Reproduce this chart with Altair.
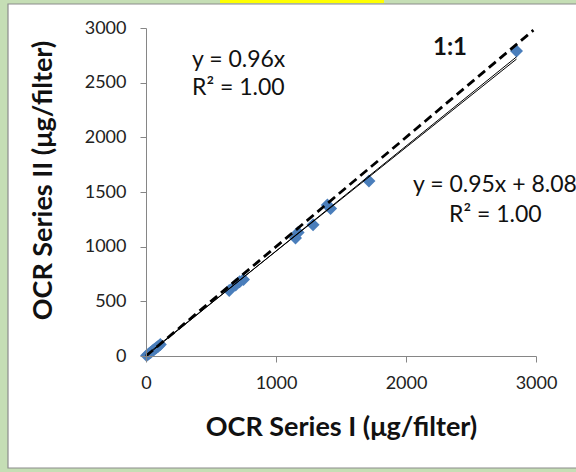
import altair as alt
import pandas as pd

# Paired OCR measurements (µg/filter)
series_1 = [5, 20, 35, 50, 65, 80, 95, 110, 640, 690, 720, 750, 1150, 1170, 1285, 1395, 1420, 1715, 2850]
series_2 = [5, 18, 32, 48, 62, 76, 90, 106, 600, 650, 680, 700, 1080, 1130, 1200, 1380, 1350, 1600, 2790]

# Fitted trendlines
fit_through_origin = 0.96
fit_slope, fit_intercept = 0.95, 8.08

x_ticks = [0, 1000, 2000, 3000]
y_ticks = [0, 500, 1000, 1500, 2000, 2500, 3000]

FONT = "Lato"
W, H = 390, 328

points = pd.DataFrame({"s1": series_1, "s2": series_2})
x_end = max(series_1)
lines = pd.DataFrame({
    "s1": [0, x_end, 0, x_end],
    "s2": [0, fit_through_origin * x_end, fit_intercept, fit_slope * x_end + fit_intercept],
    "fit": ["origin", "origin", "full", "full"],
})
one_to_one = pd.DataFrame({"s1": [0, 2980], "s2": [0, 2980]})

axis_style = dict(grid=False, zindex=2, format="d", labelFlush=False,
                  domainColor="#868686", tickColor="#868686",
                  tickSize=6, labelFontSize=18, labelColor="#222222", labelFont=FONT,
                  titleFont=FONT, titleFontSize=27, titleFontWeight="bold", titleColor="#111111")

x_enc = alt.X("s1:Q", scale=alt.Scale(domain=[0, 3000], nice=False),
              axis=alt.Axis(values=x_ticks, title="OCR Series I (μg/filter)",
                            labelPadding=12, titlePadding=22, **axis_style))
y_enc = alt.Y("s2:Q", scale=alt.Scale(domain=[0, 3000], nice=False),
              axis=alt.Axis(values=y_ticks, title="OCR Series II (μg/filter)",
                            labelPadding=14, titlePadding=27, titleY=152, **axis_style))

# Panel frame and highlight strip
frame = alt.Chart(pd.DataFrame({"a": [0]})).mark_rect(
    fill="white", stroke="#8c8c8c", strokeWidth=1.2, clip=False
).encode(x=alt.value(-138), x2=alt.value(450), y=alt.value(-24), y2=alt.value(440))
strip = alt.Chart(pd.DataFrame({"a": [0]})).mark_rect(
    fill="#ffff00", clip=False
).encode(x=alt.value(74), x2=alt.value(238), y=alt.value(-28), y2=alt.value(-25))

scatter = alt.Chart(points).mark_point(
    shape="diamond", filled=True, size=170, color="#4a7ebb", opacity=1
).encode(x=x_enc, y=y_enc)

trend = alt.Chart(lines).mark_line(color="black", strokeWidth=1).encode(
    x="s1:Q", y="s2:Q", detail="fit:N")

identity = alt.Chart(one_to_one).mark_line(
    color="black", strokeWidth=2.8, strokeDash=[9, 5]).encode(x="s1:Q", y="s2:Q")

def label(text, x, y, size=23, weight="normal"):
    return alt.Chart(pd.DataFrame({"t": [text]})).mark_text(
        align="left", baseline="middle", font=FONT, fontSize=size,
        fontWeight=weight, color="#111111", clip=False
    ).encode(text="t:N", x=alt.value(x), y=alt.value(y))

labels = (
    label("y = 0.96x", 46, 32)
    + label("R² = 1.00", 46, 60)
    + label("1:1", 287, 20, size=24, weight="bold")
    + label("y = 0.95x + 8.08", 267, 157)
    + label("R² = 1.00", 303, 187)
)

chart = alt.layer(frame, strip, scatter, trend, identity, labels).properties(
    width=W, height=H,
    background="#c5deb5",
    padding={"left": 146, "top": 28, "right": 40, "bottom": 116},
    autosize=alt.AutoSizeParams(type="none"),
).configure_view(stroke=None)

chart.save("out.html", embed_options={"renderer": "svg", "actions": False})
